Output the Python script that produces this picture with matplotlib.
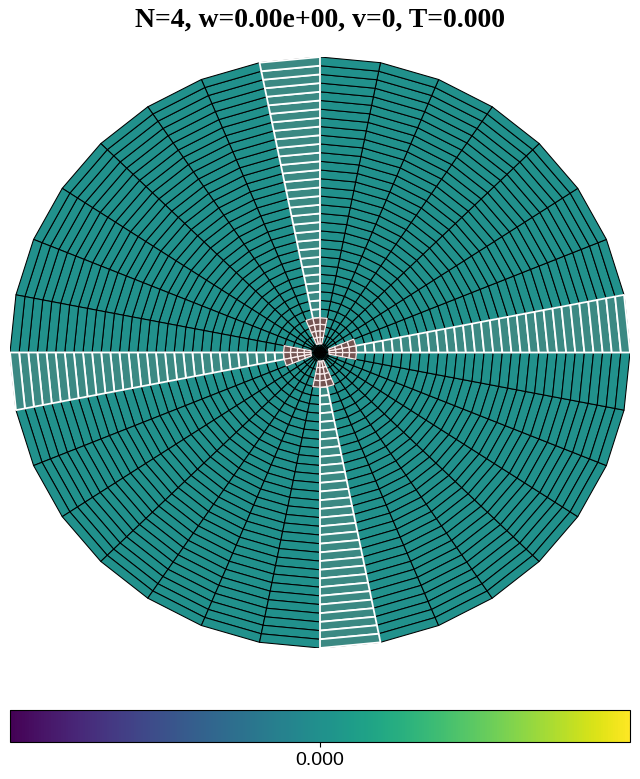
import numpy as np
import matplotlib
matplotlib.use("Agg")
import matplotlib.pyplot as plt
from matplotlib.collections import PolyCollection
from matplotlib import cm, colors

# ---- data ----
n_sectors = 32
n_rings = 34
blade_sectors = [0, 8, 16, 24]        # highlighted sectors (N=4)
hub_ring_span = [1, 4]                # hub covers rings 1..3 (edge indices)
hub_sector_span = [-1, 2]             # hub covers blade sector -1..+1
hub_r_div = 4                         # hub sub-cells radially
hub_t_div = 3                         # hub sub-cells angularly
values = np.zeros((n_rings, n_sectors))   # field values (all 0 at T=0)
title = "N=4, w=0.00e+00, v=0, T=0.000"
cbar_ticks = [0.0]
vmin, vmax = -1.0, 1.0

# ---- geometry ----
r_edges = np.linspace(0, 1, n_rings + 1)
t_edges = np.linspace(0, 2 * np.pi, n_sectors + 1)
dt = t_edges[1] - t_edges[0]

def quad(r0, r1, t0, t1):
    return [(r0 * np.cos(t0), r0 * np.sin(t0)),
            (r1 * np.cos(t0), r1 * np.sin(t0)),
            (r1 * np.cos(t1), r1 * np.sin(t1)),
            (r0 * np.cos(t1), r0 * np.sin(t1))]

norm = colors.Normalize(vmin=vmin, vmax=vmax)
cmap = plt.get_cmap("viridis")

fig = plt.figure(figsize=(6.4, 7.79), dpi=100)
ax = fig.add_axes([10 / 640, 131 / 779, 620 / 640, 591 / 779])
ax.set_xlim(-1, 1)
ax.set_ylim(-1, 1)
ax.axis("off")

base_polys, base_vals, blade_polys = [], [], []
for i in range(n_rings):
    for j in range(n_sectors):
        p = quad(r_edges[i], r_edges[i + 1], t_edges[j], t_edges[j + 1])
        base_polys.append(p)
        base_vals.append(values[i, j])
        if j in blade_sectors and i >= hub_ring_span[1]:
            blade_polys.append(p)

hub_polys = []
hr = np.linspace(r_edges[hub_ring_span[0]], r_edges[hub_ring_span[1]], hub_r_div + 1)
for k in blade_sectors:
    ht = np.linspace(t_edges[k] + hub_sector_span[0] * dt,
                     t_edges[k] + hub_sector_span[1] * dt, hub_t_div + 1)
    for a in range(hub_r_div):
        for b in range(hub_t_div):
            hub_polys.append(quad(hr[a], hr[a + 1], ht[b], ht[b + 1]))

pc = PolyCollection(base_polys, array=np.array(base_vals), cmap=cmap, norm=norm,
                    edgecolors="black", linewidths=0.75)
ax.add_collection(pc)

blade = PolyCollection(blade_polys, facecolors="#3b8983", edgecolors="white",
                       linewidths=1.3)
ax.add_collection(blade)

hub = PolyCollection(hub_polys, facecolors="#745452", edgecolors="#fbeeee",
                     linewidths=0.9)
ax.add_collection(hub)

fig.text(0.5, 1 - 20 / 779, title, ha="center", va="center", fontsize=20,
         fontweight="bold", family="Liberation Serif")

cax = fig.add_axes([10 / 640, 37 / 779, 620 / 640, 32 / 779])
sm = cm.ScalarMappable(norm=norm, cmap=cmap)
cb = fig.colorbar(sm, cax=cax, orientation="horizontal", ticks=cbar_ticks,
                  format="%.3f")
cb.ax.tick_params(labelsize=14)
for lab in cb.ax.get_xticklabels():
    lab.set_family("Liberation Sans")

fig.savefig("out.png", dpi=100)
